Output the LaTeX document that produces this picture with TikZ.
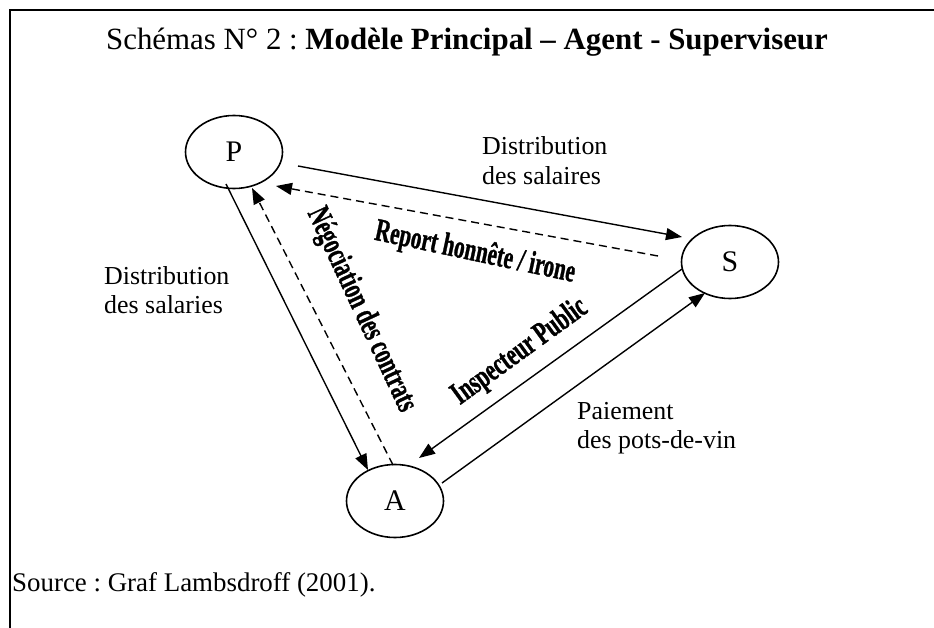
\documentclass[tikz,border=0pt]{standalone}
\usepackage{fontspec}
\setmainfont{Liberation Serif}
\newfontfamily\wafont{Liberation Serif}[BoldFeatures={FakeBold=1.2}]
\usetikzlibrary{arrows.meta,shapes.geometric,calc}
\newcommand\twoline[2]{\begin{tabular}[t]{@{}l@{}}#1\\#2\end{tabular}}
\frenchspacing
\begin{document}
\begin{tikzpicture}[x=1bp,y=-1bp,
  actor/.style={draw, ellipse, line width=1.6bp, minimum width=97bp, minimum height=73bp, inner sep=0pt, font=\fontsize{30}{30}\selectfont},
  lbl/.style={inner sep=0pt, anchor=base west, font=\fontsize{26}{29.5}\selectfont},
  wordart/.style={inner sep=0pt, font=\fontsize{28}{28}\selectfont\wafont\bfseries},
  flow/.style={line width=1.4bp, -{Triangle[length=16bp,width=12bp]}},
  back/.style={flow, dash pattern=on 8bp off 5bp}]
\useasboundingbox (0,0) rectangle (934,628);
\draw[line width=2bp] (10,628) -- (10,10) -- (934,10);

\node[anchor=base, inner sep=0pt, font=\fontsize{31}{31}\selectfont] (title) at (467,50)
  {Schémas N° 2 : \textbf{Modèle Principal – Agent - Superviseur}};

\node[actor] (P) at (234,152) {P};
\node[actor] (S) at (730,262) {S};
\node[actor] (A) at (395,501) {A};

\node[lbl] (ltop) at (482,155) {\twoline{Distribution}{des salaires}};
\node[lbl] (lleft) at (104,284) {\twoline{Distribution}{des salaries}};
\node[lbl] (lpay) at (577,419) {\twoline{Paiement}{des pots-de-vin}};

\node[wordart, rotate=-12] (report) at (475,253) {\scalebox{0.76}[1.15]{Report honnête / irone}};
\node[wordart, rotate=-65] (nego) at (361,310) {\scalebox{0.76}[1.15]{Négociation des contrats}};
\node[wordart, rotate=36] (insp) at (520,352) {\scalebox{0.76}[1.15]{Inspecteur Public}};

\draw[flow] ($(P)+(64,14)$) -- ($(S)+(-48,-25)$);
\draw[back] ($(S)+(-72,-6)$) -- ($(P)+(42,34)$);
\draw[flow] ($(P)+(-8,32)$) -- ($(A)+(-27,-31)$);
\draw[back] ($(A)+(-2,-36)$) -- ($(P)+(18,36)$);
\draw[flow] ($(S)+(-48,7)$) -- ($(A)+(24,-43)$);
\draw[flow] ($(A)+(47,-18)$) -- ($(S)+(-25,31)$);

\node[anchor=base west, inner sep=0pt, font=\fontsize{27}{27}\selectfont] (source) at (12,591)
  {Source : Graf Lambsdroff (2001).};
\end{tikzpicture}
\end{document}
